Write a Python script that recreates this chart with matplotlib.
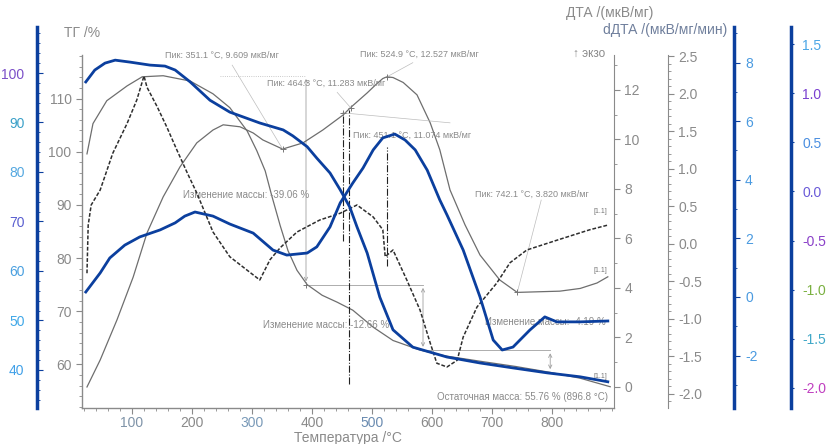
import matplotlib.pyplot as plt
from matplotlib.ticker import MultipleLocator

plt.rcParams["font.family"] = ["Liberation Sans", "DejaVu Sans"]
plt.rcParams["axes.unicode_minus"] = False

W, H = 826, 444
GRAY = "#8a8a8a"
LINE_GRAY = "#6e6e6e"
BLUE = "#0b3f9e"
LBLUE = "#4a9ae0"

# ---- data (temperature in °C) ----
tg_t = [25, 35, 58, 92, 117, 152, 197, 235, 263, 292, 308, 322, 333, 347, 360, 375,
        392, 417, 442, 468, 502, 535, 580, 622, 680, 740, 797, 847, 897]
tg_v = [99.6, 105.3, 109.6, 112.4, 114.1, 114.3, 113.3, 110.9, 108.3, 103.9, 100.2, 96.4,
        91.7, 86.1, 81.4, 77.7, 75.0, 73.0, 71.7, 70.2, 67.0, 64.5, 62.7, 61.6, 60.6,
        59.6, 58.5, 57.4, 55.8]

dta_t = [25, 47, 75, 102, 125, 152, 180, 208, 235, 252, 280, 302, 318, 351, 385, 418,
         452, 464, 492, 508, 518, 525, 535, 552, 575, 597, 613, 630, 655, 680, 713, 742,
         770, 813, 847, 875, 893]
dta_v = [0.0, 1.09, 2.71, 4.44, 6.22, 7.68, 8.89, 9.86, 10.38, 10.59, 10.51, 10.26, 9.98,
         9.61, 9.86, 10.38, 10.99, 11.28, 11.88, 12.25, 12.46, 12.53, 12.5, 12.30, 11.80,
         10.67, 9.58, 7.96, 6.55, 5.33, 4.32, 3.82, 3.84, 3.87, 3.98, 4.2, 4.45]

ddta_t = [25, 27, 32, 47, 68, 92, 108, 120, 125, 142, 158, 175, 192, 208, 235, 263, 292,
          313, 330, 347, 375, 413, 447, 475, 502, 518, 522, 535, 558, 580, 597, 608, 625,
          642, 652, 675, 708, 730, 758, 808, 863, 892]
ddta_v = [-0.39, 0.25, 0.52, 0.72, 1.21, 1.61, 1.92, 2.24, 2.09, 1.83, 1.56, 1.25, 0.95,
          0.68, 0.16, -0.17, -0.35, -0.48, -0.21, -0.05, 0.16, 0.32, 0.41, 0.52, 0.36,
          0.19, -0.17, -0.08, -0.48, -0.88, -1.32, -1.59, -1.64, -1.55, -1.24, -0.84,
          -0.52, -0.25, -0.08, 0.05, 0.19, 0.25]

tgb_t = [23, 38, 55, 72, 97, 130, 155, 172, 197, 230, 263, 313, 352, 368, 392, 408, 430,
         447, 463, 475, 492, 513, 535, 568, 625, 680, 735, 792, 847, 893]
tgb_v = [98.2, 100.6, 102.0, 102.6, 102.2, 101.6, 101.4, 100.6, 98.2, 94.5, 92.1, 89.9,
         88.5, 87.3, 85.1, 82.8, 79.8, 76.4, 72.9, 68.9, 63.6, 54.7, 48.1, 44.6, 42.6,
         41.4, 40.4, 39.4, 38.6, 37.6]

dtab_t = [23, 47, 63, 88, 113, 147, 172, 188, 205, 235, 263, 302, 335, 358, 392, 408, 430,
          447, 468, 485, 502, 518, 538, 555, 572, 592, 613, 625, 652, 680, 702, 717, 735,
          763, 788, 808, 847, 893]
dtab_v = [0.17, 0.82, 1.33, 1.77, 2.05, 2.29, 2.53, 2.76, 2.90, 2.76, 2.49, 2.18, 1.60,
          1.43, 1.50, 1.71, 2.39, 3.21, 3.89, 4.40, 5.02, 5.43, 5.56, 5.36, 5.02, 4.33,
          3.31, 2.80, 1.60, 0.0, -1.47, -1.81, -1.71, -1.13, -0.68, -0.85, -0.85, -0.82]

# peaks on the DTA curve
peak_t = [351.1, 464.3, 451.1, 524.9, 742.1]
peak_v = [9.609, 11.283, 11.074, 12.527, 3.820]
peak_txt_pos = [(155, 13.4), (325, 12.25), (468, 10.15), (480, 13.45), (672, 7.8)]
peak_lead_from = [(267, 13.0), (442, 11.9), (630, 10.67), (568, 13.1), (782, 7.55)]

# vertical dash-dot markers (temperature, DTA from, DTA to)
vmark_t = [452, 462, 525]
vmark_lo = [5.9, 0.1, 4.9]
vmark_hi = [11.0, 11.2, 9.7]

# mass change steps (TG units)
step_t = [390, 585, 797]
step_hi = [114.3, 75.0, 62.7]
step_lo = [75.0, 62.7, 58.5]
step_texts = ["Изменение массы: -39.06 %", "Изменение массы: -12.66 %",
              "Изменение массы: -4.19 %"]
step_txt_pos = [(185, 91.9), (318, 67.4), (688, 67.9)]

x_ticks = [100, 200, 300, 400, 500, 600, 700, 800]
x_tick_colors = ["#7f93a8", GRAY, "#7a9ab8", GRAY, "#6a8bb0", GRAY, GRAY, GRAY]
far_left_ticks = [40, 50, 60, 70, 80, 90, 100]
far_left_colors = ["#40a0e8", "#40a8e8", "#4aa0e0", "#5a5fd0", "#55a8e0", "#3aa0c8", "#7b4fc8"]
far_right_ticks = [-2.0, -1.5, -1.0, -0.5, 0.0, 0.5, 1.0, 1.5]
far_right_colors = ["#c040c0", "#40a8c8", "#7ab040", "#8a40c8", "#6a5ad8", "#4a8ee0",
                    "#7a40d0", "#4aa6e6"]


def rect(x0, y0, x1, y1):
    return [x0 / W, 1 - y1 / H, (x1 - x0) / W, (y1 - y0) / H]


fig = plt.figure(figsize=(W / 100, H / 100), dpi=100)
XL = (16.7, 903.3)

# main axes: TG on the left spine
ax = fig.add_axes(rect(82, 55, 614, 408))
ax.set_xlim(*XL)
ax.set_ylim(51.8, 118.2)
for s in ["top", "right"]:
    ax.spines[s].set_visible(False)
for s in ["left", "bottom"]:
    ax.spines[s].set_color(GRAY)
    ax.spines[s].set_linewidth(1.0)
ax.set_xticks(x_ticks)
ax.xaxis.set_minor_locator(MultipleLocator(20))
ax.set_yticks([60, 70, 80, 90, 100, 110])
ax.yaxis.set_minor_locator(MultipleLocator(2))
ax.tick_params(colors=GRAY, labelsize=10, length=4, width=0.8)
ax.tick_params(axis="x", pad=1.5)
ax.tick_params(which="minor", colors=GRAY, length=2, width=0.6)
for lbl, c in zip(ax.get_xticklabels(), x_tick_colors):
    lbl.set_color(c)
ax.plot(tg_t, tg_v, color=LINE_GRAY, lw=0.9)

# step lines for mass change
ax.plot([247, step_t[0]], [step_hi[0], step_hi[0]], color="#b8b8b8", lw=0.6, ls=":")
ax.plot([step_t[0], step_t[1]], [step_lo[0], step_lo[0]], color="#a0a0a0", lw=0.6)
ax.plot([step_t[1], step_t[2]], [step_lo[1], step_lo[1]], color="#a0a0a0", lw=0.6)
ax.plot([step_t[0]], [step_lo[0]], marker="+", color="#777777", ms=5, mew=0.7)
for t, hi, lo in zip(step_t, step_hi, step_lo):
    ax.annotate("", xy=(t, lo + 0.6), xytext=(t, hi - 0.6),
                arrowprops=dict(arrowstyle="<->", color="#a0a0a0", lw=0.6,
                                shrinkA=0, shrinkB=0, mutation_scale=6))
for txt, (tx, ty) in zip(step_texts, step_txt_pos):
    ax.text(tx, ty, txt, fontsize=7, color=GRAY, va="center", ha="left")
ax.text(893, 53.8, "Остаточная масса: 55.76 % (896.8 °C)", fontsize=7, color=GRAY,
        va="center", ha="right")

# DTA axis (right spine of the frame)
ax_dta = ax.twinx()
ax_dta.set_ylim(-0.85, 13.41)
for s in ["top", "left", "bottom"]:
    ax_dta.spines[s].set_visible(False)
ax_dta.spines["right"].set_color(GRAY)
ax_dta.set_yticks([0, 2, 4, 6, 8, 10, 12])
ax_dta.yaxis.set_minor_locator(MultipleLocator(1))
ax_dta.tick_params(axis="y", colors=GRAY, labelsize=10, length=4, width=0.8)
ax_dta.tick_params(axis="y", which="minor", colors=GRAY, length=2)
ax_dta.plot(dta_t, dta_v, color=LINE_GRAY, lw=0.9)
ax_dta.vlines(vmark_t, vmark_lo, vmark_hi, colors="#222222", lw=0.8, linestyles="-.")
for (pt, pv, (tx, ty), (lx, ly)) in zip(peak_t, peak_v, peak_txt_pos, peak_lead_from):
    ax_dta.plot([lx, pt], [ly, pv], color="#bdbdbd", lw=0.5)
    ax_dta.plot([pt], [pv], marker="+", color="#777777", ms=5, mew=0.7)
    ax_dta.text(tx, ty, f"Пик: {pt:.1f} °C, {pv:.3f} мкВ/мг", fontsize=6.5,
                color=GRAY, va="center", ha="left", clip_on=False)
for yv in [6.95, 4.55, 0.3]:
    ax_dta.text(880, yv, "[1.1]", fontsize=5, color="#777777", ha="center", va="bottom")
ax_dta.text(889, 13.45, "↑ экзо", fontsize=8.5, color=GRAY, ha="right", va="center")

# dDTA axis (gray, second on the right)
ax_d2 = ax.twinx()
ax_d2.set_ylim(-2.187, 2.52)
for s in ["top", "left", "bottom"]:
    ax_d2.spines[s].set_visible(False)
ax_d2.spines["right"].set_position(("axes", (668 - 82) / 532))
ax_d2.spines["right"].set_color(GRAY)
ax_d2.set_yticks([-2.0, -1.5, -1.0, -0.5, 0.0, 0.5, 1.0, 1.5, 2.0, 2.5])
ax_d2.yaxis.set_minor_locator(MultipleLocator(0.1))
ax_d2.tick_params(axis="y", colors=GRAY, labelsize=10, length=4, width=0.8)
ax_d2.tick_params(axis="y", which="minor", colors=GRAY, length=2)
ax_d2.plot(ddta_t, ddta_v, color="#2e2e2e", lw=1.1, ls=(0, (2.5, 1.2)))

# tall blue axes
def blue_axes(ylim, side, pos):
    b = fig.add_axes(rect(82, 27, 614, 408))
    b.patch.set_visible(False)
    b.set_xlim(*XL)
    b.set_ylim(*ylim)
    b.xaxis.set_visible(False)
    for s in ["top", "bottom", "left", "right"]:
        b.spines[s].set_visible(False)
    b.spines[side].set_visible(True)
    b.spines[side].set_position(("axes", pos))
    b.spines[side].set_color(BLUE)
    b.spines[side].set_linewidth(2.5)
    b.yaxis.set_ticks_position(side)
    b.yaxis.set_label_position(side)
    return b


ax_bl = blue_axes((32.3, 109.3), "left", (37 - 82) / 532)
ax_bl.set_yticks(far_left_ticks)
ax_bl.yaxis.set_minor_locator(MultipleLocator(2))
ax_bl.tick_params(axis="y", direction="in", labelsize=10, length=4, color=BLUE, pad=9)
ax_bl.tick_params(axis="y", which="minor", direction="in", length=2, color=BLUE)
for lbl, c in zip(ax_bl.get_yticklabels(), far_left_colors):
    lbl.set_color(c)
ax_bl.plot(tgb_t, tgb_v, color=BLUE, lw=2.0)

ax_b1 = blue_axes((-3.79, 9.215), "right", (734 - 82) / 532)
ax_b1.set_yticks([-2, 0, 2, 4, 6, 8])
ax_b1.yaxis.set_minor_locator(MultipleLocator(1))
ax_b1.tick_params(axis="y", labelsize=10, length=4, color=BLUE, labelcolor=LBLUE, pad=4)
ax_b1.tick_params(axis="y", which="minor", length=2, color=BLUE)
ax_b1.plot(dtab_t, dtab_v, color=BLUE, lw=2.0)

ax_b2 = blue_axes((-2.204, 1.673), "right", (791 - 82) / 532)
ax_b2.set_yticks(far_right_ticks)
ax_b2.tick_params(axis="y", labelsize=10, length=2, color=BLUE, pad=6)
for lbl, c in zip(ax_b2.get_yticklabels(), far_right_colors):
    lbl.set_color(c)

# axis titles
fig.text(82 / W, 1 - 33 / H, "ТГ /%", fontsize=10, color=GRAY, ha="center", va="center")
fig.text(653 / W, 1 - 13 / H, "ДТА /(мкВ/мг)", fontsize=10, color=GRAY,
         ha="right", va="center")
fig.text(727 / W, 1 - 30 / H, "dДТА /(мкВ/мг/мин)", fontsize=10, color="#6f7f9c",
         ha="right", va="center")
fig.text(348 / W, 1 - 437.5 / H, "Температура /°C", fontsize=10, color=GRAY,
         ha="center", va="center")

fig.savefig("out.png", dpi=100)
